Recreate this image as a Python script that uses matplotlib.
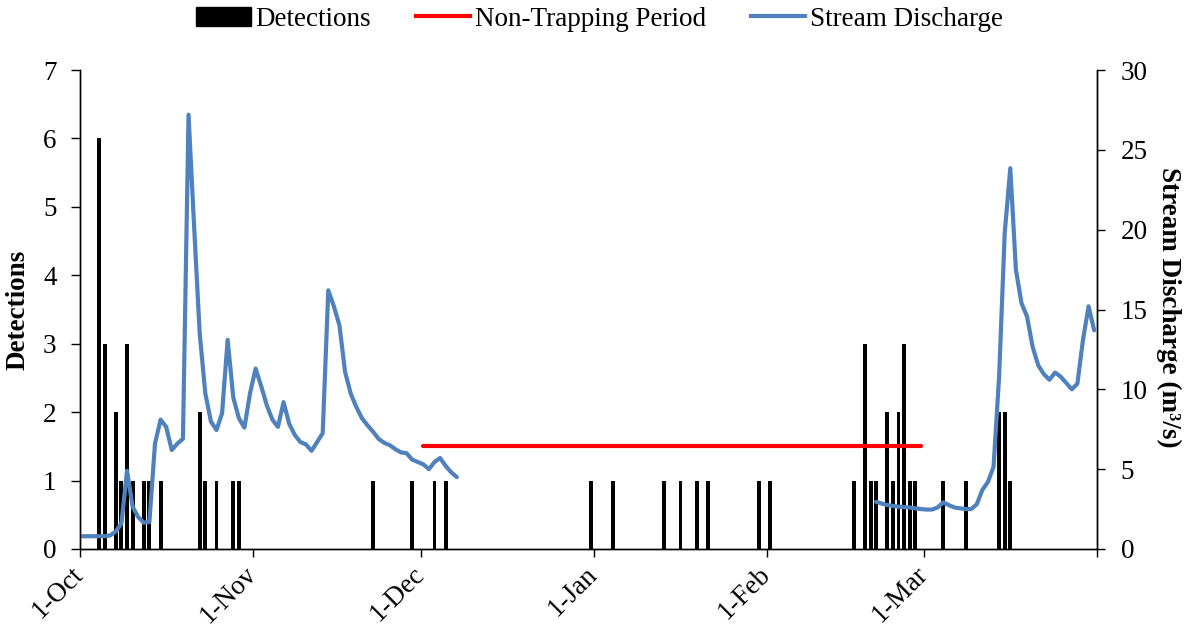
import matplotlib.pyplot as plt
import matplotlib.transforms as mtransforms
from matplotlib.patches import Patch
from matplotlib.lines import Line2D

plt.rcParams['font.family'] = ['Liberation Serif', 'DejaVu Serif']
plt.rcParams['font.size'] = 19.5

# days counted from 1-Oct (0 = 1-Oct)
month_days = [0, 31, 61, 92, 123, 151, 182]
month_labels = ['1-Oct', '1-Nov', '1-Dec', '1-Jan', '1-Feb', '1-Mar', '']

det_days = [3, 4, 6, 7, 8, 9, 11, 12, 14, 21, 22, 24, 27, 28,
            52, 59, 63, 65, 91, 95, 104, 107, 110, 112, 121, 123,
            138, 140, 141, 142, 144, 145, 146, 147, 148, 149, 154, 158,
            164, 165, 166]
det_counts = [6, 3, 2, 1, 3, 1, 1, 1, 1, 2, 1, 1, 1, 1,
              1, 1, 1, 1, 1, 1, 1, 1, 1, 1, 1, 1,
              1, 3, 1, 1, 2, 1, 2, 3, 1, 1, 1, 1,
              2, 2, 1]

# non-trapping period (drawn at 1.5 on the detections axis)
nontrap_days = [61, 150]
nontrap_level = [1.5, 1.5]

# stream discharge, first block starts 1-Oct, second block starts day 142
flow1_start = 0
flow1 = [0.8, 0.8, 0.8, 0.8, 0.8, 0.85, 1.1, 1.6, 4.9, 2.65,
         2.0, 1.65, 1.7, 6.6, 8.1, 7.65, 6.2, 6.6, 6.9, 27.2,
         20.2, 13.5, 9.75, 8.0, 7.45, 8.5, 13.1, 9.5, 8.2, 7.6,
         9.75, 11.3, 10.2, 9.0, 8.1, 7.65, 9.2, 7.85, 7.15, 6.7,
         6.55, 6.15, 6.7, 7.25, 16.2, 15.2, 14.0, 11.1, 9.75, 8.9,
         8.2, 7.75, 7.35, 6.9, 6.65, 6.5, 6.25, 6.05, 6.0, 5.6,
         5.45, 5.3, 5.0, 5.45, 5.7, 5.2, 4.8, 4.5]
flow2_start = 142
flow2 = [2.95, 2.85, 2.75, 2.7, 2.65, 2.62, 2.6, 2.55, 2.5, 2.47,
         2.47, 2.6, 2.92, 2.75, 2.6, 2.55, 2.5, 2.5, 2.8, 3.7,
         4.2, 5.15, 10.8, 19.8, 23.85, 17.5, 15.4, 14.55, 12.65, 11.5,
         10.95, 10.6, 11.05, 10.8, 10.4, 10.0, 10.35, 13.1, 15.2, 13.7]

blue = '#4F81BD'

fig = plt.figure(figsize=(11.85, 6.28), dpi=100)
ax = fig.add_axes([0.0671, 0.1258, 0.8586, 0.7627])
ax2 = ax.twinx()

# bars sit in the middle of each day
ax.bar([d + 0.5 for d in det_days], det_counts, width=0.7, color='black', zorder=2)
ax.plot([d + 0.5 for d in nontrap_days], nontrap_level, color='red', lw=3,
        solid_capstyle='round', zorder=3)

x1 = [flow1_start + i + 0.5 for i in range(len(flow1))]
x2 = [flow2_start + i + 0.5 for i in range(len(flow2))]
for xs, ys in [(x1, flow1), (x2, flow2)]:
    ax2.plot(xs, ys, color=blue, lw=3, solid_capstyle='round', solid_joinstyle='round')

ax.set_xlim(0, 182)
ax.set_ylim(0, 7)
ax2.set_ylim(0, 30)
ax.set_yticks(range(0, 8))
ax2.set_yticks(range(0, 31, 5))
ax.set_xticks(month_days)
ax.set_xticklabels(month_labels)
shift = mtransforms.ScaledTranslation(0.04, 0, fig.dpi_scale_trans)
for lbl in ax.get_xticklabels():
    lbl.set_rotation(45)
    lbl.set_ha('right')
    lbl.set_va('center')
    lbl.set_rotation_mode('anchor')
    lbl.set_transform(lbl.get_transform() + shift)

for a in (ax, ax2):
    a.spines['top'].set_visible(False)
    for s in a.spines.values():
        s.set_linewidth(1.0)
ax.tick_params(axis='y', direction='out', length=6.5, width=1.0, pad=10)
ax.tick_params(axis='x', direction='out', length=5.5, width=1.0, pad=10)
ax2.tick_params(axis='y', direction='out', length=6, width=1.0, pad=11)

ax.set_ylabel('Detections', fontweight='bold', va='center')
ax.yaxis.set_label_coords(-0.0605, 0.5)
ax2.set_ylabel('Stream Discharge (m³/s)', fontweight='bold', rotation=270,
               va='center', ha='center')
ax2.yaxis.set_label_coords(1.07, 0.505)

handles = [Patch(facecolor='black', edgecolor='black'),
           Line2D([], [], color='red', lw=3),
           Line2D([], [], color=blue, lw=3)]
fig.legend(handles, ['Detections', 'Non-Trapping Period', 'Stream Discharge'],
           loc='center', bbox_to_anchor=(0.506, 0.969), ncol=3, frameon=False,
           handlelength=2.0, handletextpad=0.18, columnspacing=1.65)

fig.savefig('out.png', dpi=100)
